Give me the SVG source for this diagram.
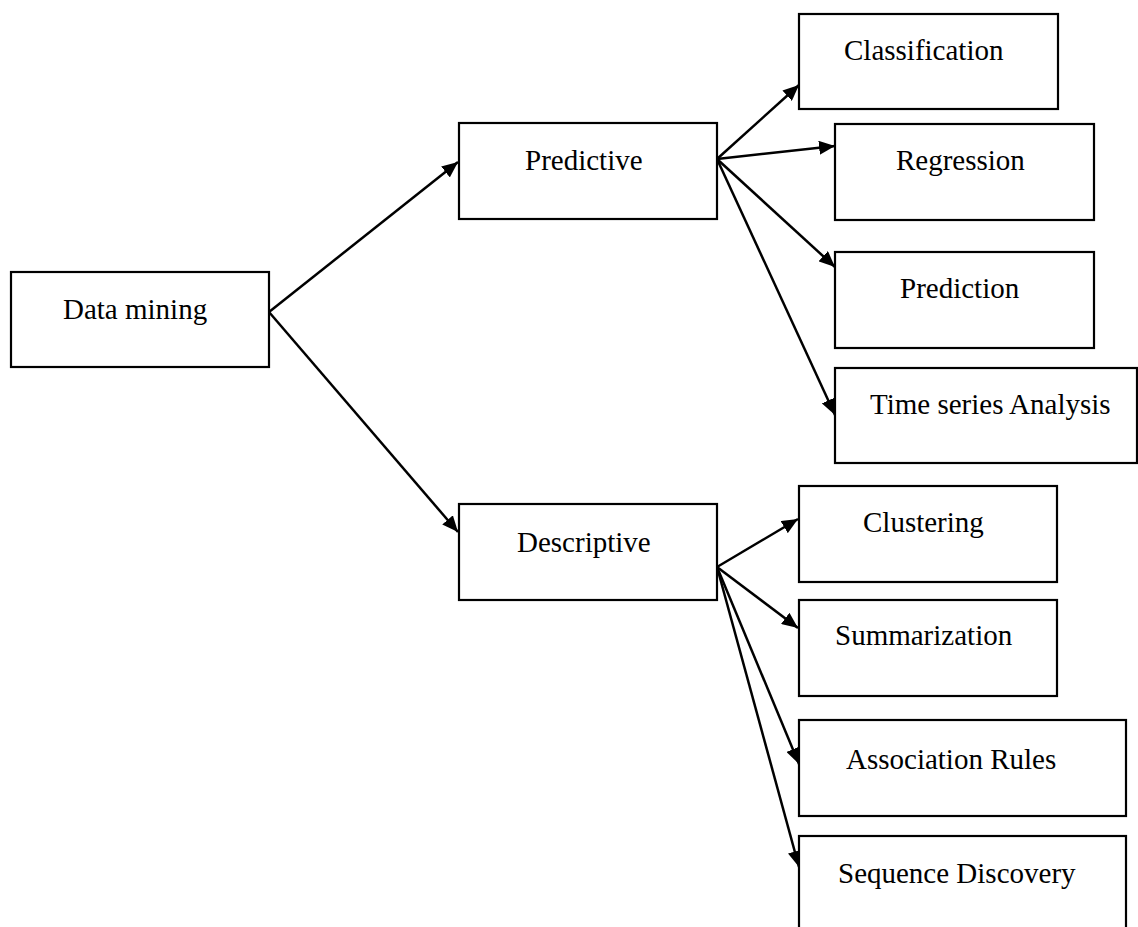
<svg xmlns="http://www.w3.org/2000/svg" width="1138" height="927" viewBox="0 0 1138 927">
  <style>
    .box { fill: #ffffff; stroke: #000000; stroke-width: 2.2; }
    .label { font-family: "Liberation Serif", "Times New Roman", serif; font-size: 29px; fill: #000000; }
    .edge { fill: none; stroke: #000000; stroke-width: 2.5; marker-end: url(#arrow); }
  </style>
  <defs>
    <marker id="arrow" markerUnits="userSpaceOnUse" markerWidth="16" markerHeight="14" viewBox="0 0 16 14" refX="16" refY="7" orient="auto">
      <path d="M0,0 L16,7 L0,14 Z" fill="#000000"/>
    </marker>
  </defs>

  <rect width="1138" height="927" fill="#ffffff"/>

  <!-- connectors -->
  <g id="connectors">
    <line class="edge" x1="269" y1="312" x2="458" y2="162"/>
    <line class="edge" x1="269" y1="312" x2="458" y2="532"/>
    <line class="edge" x1="717" y1="159" x2="799" y2="85"/>
    <line class="edge" x1="717" y1="159" x2="835" y2="146"/>
    <line class="edge" x1="717" y1="159" x2="835" y2="267"/>
    <line class="edge" x1="717" y1="159" x2="835" y2="415"/>
    <line class="edge" x1="717" y1="567" x2="798" y2="519"/>
    <line class="edge" x1="717" y1="567" x2="798" y2="628"/>
    <line class="edge" x1="717" y1="567" x2="799" y2="764"/>
    <line class="edge" x1="717" y1="567" x2="799" y2="867"/>
  </g>

  <!-- nodes -->
  <g id="data-mining">
    <rect class="box" x="11" y="272" width="258" height="95"/>
    <text class="label" x="63" y="319">Data mining</text>
  </g>
  <g id="predictive">
    <rect class="box" x="459" y="123" width="258" height="96"/>
    <text class="label" x="525" y="170">Predictive</text>
  </g>
  <g id="descriptive">
    <rect class="box" x="459" y="504" width="258" height="96"/>
    <text class="label" x="517" y="552">Descriptive</text>
  </g>
  <g id="classification">
    <rect class="box" x="799" y="14" width="259" height="95"/>
    <text class="label" x="844" y="60">Classification</text>
  </g>
  <g id="regression">
    <rect class="box" x="835" y="124" width="259" height="96"/>
    <text class="label" x="896" y="170">Regression</text>
  </g>
  <g id="prediction">
    <rect class="box" x="835" y="252" width="259" height="96"/>
    <text class="label" x="900" y="298">Prediction</text>
  </g>
  <g id="time-series">
    <rect class="box" x="835" y="368" width="302" height="95"/>
    <text class="label" x="870" y="414">Time series Analysis</text>
  </g>
  <g id="clustering">
    <rect class="box" x="799" y="486" width="258" height="96"/>
    <text class="label" x="863" y="532">Clustering</text>
  </g>
  <g id="summarization">
    <rect class="box" x="799" y="600" width="258" height="96"/>
    <text class="label" x="835" y="645">Summarization</text>
  </g>
  <g id="association-rules">
    <rect class="box" x="799" y="720" width="327" height="96"/>
    <text class="label" x="846" y="769">Association Rules</text>
  </g>
  <g id="sequence-discovery">
    <rect class="box" x="799" y="836" width="327" height="110"/>
    <text class="label" x="838" y="883">Sequence Discovery</text>
  </g>
</svg>
